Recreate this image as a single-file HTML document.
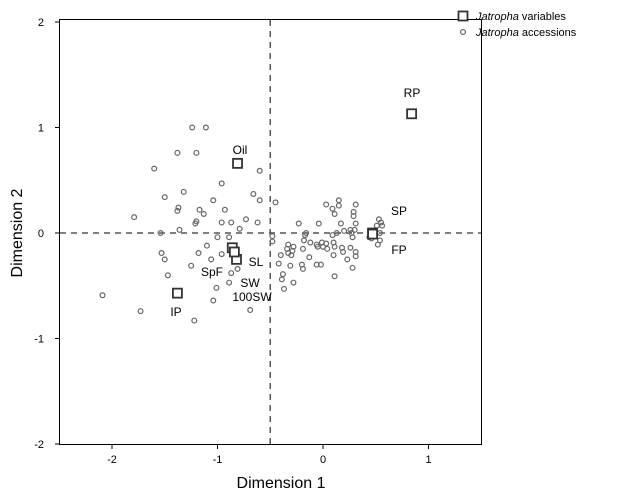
<!DOCTYPE html>
<html><head><meta charset="utf-8"><style>
body{margin:0;background:#fff;}
svg{display:block;font-family:"Liberation Sans",Arial,sans-serif;}
</style></head><body>
<svg id="chart" width="619" height="497">
<g id="marks"></g>
</svg>
<script>
const xTicks=[-2,-1,0,1];
const yTicks=[-2,-1,0,1,2];
const accX=[-1.24,-1.11,-1.38,-1.20,-1.60,-0.60,-0.96,-1.32,-1.50,-0.66,-0.60,-0.45,-1.04,-1.37,-1.38,-1.17,-1.13,-0.93,-1.79,-0.73,-0.62,-0.96,-0.87,-1.20,-1.21,-0.79,-1.54,-1.36,-1.00,-0.89,-0.48,-0.48,-1.10,-1.53,-1.50,-1.18,-0.96,-1.06,-1.25,-0.81,-1.47,-0.87,-0.89,-1.01,-2.09,-1.04,-1.73,-0.69,-1.22,
0.03,0.15,0.15,0.09,0.11,0.31,0.29,0.29,-0.23,-0.04,0.17,0.31,0.53,0.55,0.56,0.51,0.26,0.20,0.30,-0.16,0.13,-0.17,0.09,0.27,0.28,0.45,0.44,0.46,0.54,0.54,0.52,-0.18,-0.12,-0.33,-0.28,-0.34,-0.29,-0.33,-0.30,-0.40,-0.19,-0.06,-0.01,0.03,-0.05,0.00,0.04,0.10,0.11,0.18,0.19,0.26,0.31,0.31,0.10,-0.13,0.23,-0.42,-0.31,-0.20,-0.19,-0.06,-0.02,0.28,-0.38,-0.39,0.11,-0.28,-0.37];
const accY=[1.00,1.00,0.76,0.76,0.61,0.59,0.47,0.39,0.34,0.37,0.31,0.29,0.31,0.24,0.21,0.22,0.18,0.22,0.15,0.13,0.10,0.10,0.10,0.11,0.09,0.04,0.00,0.03,-0.04,-0.04,-0.03,-0.08,-0.12,-0.19,-0.25,-0.19,-0.20,-0.25,-0.31,-0.34,-0.40,-0.38,-0.47,-0.52,-0.59,-0.64,-0.74,-0.73,-0.83,
0.27,0.31,0.26,0.23,0.18,0.27,0.20,0.16,0.09,0.09,0.09,0.09,0.13,0.10,0.07,0.07,0.03,0.02,0.03,0.00,0.00,-0.02,-0.02,0.00,-0.04,0.01,-0.04,-0.05,0.00,-0.07,-0.11,-0.07,-0.09,-0.11,-0.13,-0.15,-0.17,-0.19,-0.21,-0.21,-0.15,-0.11,-0.09,-0.10,-0.13,-0.13,-0.15,-0.09,-0.13,-0.14,-0.18,-0.14,-0.18,-0.22,-0.21,-0.23,-0.25,-0.29,-0.31,-0.30,-0.34,-0.30,-0.30,-0.33,-0.39,-0.44,-0.41,-0.47,-0.53];
const varNames=["Oil","RP","SP","FP","IP","SpF","SL","SW"];
const varX=[-0.81,0.84,0.47,0.47,-1.38,-0.86,-0.82,-0.84];
const varY=[0.66,1.13,0.00,-0.01,-0.57,-0.14,-0.25,-0.18];
const labels=[["Oil",240,154,"middle"],["RP",412,97,"middle"],["SP",399,215,"middle"],["FP",399,254,"middle"],["IP",176,316,"middle"],["SpF",212,276,"middle"],["SL",256,266,"middle"],["SW",250,287,"middle"],["100SW",252,301,"middle"]];
const X0=59.25,X1=481.25,Y0=22,Y1=444;
const sx=v=>X0+(v-(-2.5))/4*(X1-X0);
const sy=v=>Y1-(v-(-2))/4*(Y1-Y0);
const NS="http://www.w3.org/2000/svg";
const svg=document.getElementById('chart');
function mk(t,a,txt){const e=document.createElementNS(NS,t);for(const k in a)e.setAttribute(k,a[k]);if(txt!==undefined)e.textContent=txt;svg.appendChild(e);return e;}
let e;
e=mk('rect',{x:59.5,y:19.5,width:422,height:425,fill:'none',stroke:'#000','stroke-width':1});


e=mk('line',{x1:sx(-0.5),x2:sx(-0.5),y1:20,y2:445,stroke:'#555','stroke-width':1.5,'stroke-dasharray':'6,5'});


e=mk('line',{x1:60,x2:481,y1:sy(0),y2:sy(0),stroke:'#555','stroke-width':1.5,'stroke-dasharray':'6,5'});


xTicks.forEach(t=>{
 e=mk('line',{x1:sx(t),x2:sx(t),y1:445,y2:449,stroke:'#000'});
 
 
 e=mk('text',{x:sx(t),y:463,'font-size':11,'text-anchor':'middle'},String(t));
 
 
});
yTicks.forEach(t=>{
 e=mk('line',{x1:55,x2:59.5,y1:sy(t),y2:sy(t),stroke:'#000'});
 
 
 e=mk('text',{x:44,y:sy(t)+4,'font-size':11,'text-anchor':'end'},String(t));
 
 
});
e=mk('text',{x:281,y:488,'font-size':16,'text-anchor':'middle'},'Dimension 1');


e=mk('text',{x:0,y:0,'font-size':16,'text-anchor':'middle',transform:'translate(22,233) rotate(-90)'},'Dimension 2');


accX.forEach((v,i)=>{
 e=mk('circle',{cx:sx(v),cy:sy(accY[i]),r:2.4,fill:'none',stroke:'#666','stroke-width':1.2});
 
 
});
varX.forEach((v,i)=>{
 e=mk('rect',{x:sx(v)-4.5,y:sy(varY[i])-4.5,width:9,height:9,fill:'#fff',stroke:'#333','stroke-width':1.8});
 
 
});
labels.forEach(l=>{
 e=mk('text',{x:l[1],y:l[2],'font-size':12,'text-anchor':l[3]},l[0]);
 
 
});
e=mk('rect',{x:458.5,y:11.5,width:9,height:9,fill:'#fff',stroke:'#333','stroke-width':1.8});


e=mk('text',{x:476,y:20,'font-size':11});
e.innerHTML='<tspan font-style="italic">Jatropha</tspan> variables';


e=mk('circle',{cx:463,cy:32,r:2.4,fill:'none',stroke:'#666','stroke-width':1.2});


e=mk('text',{x:476,y:36,'font-size':11});
e.innerHTML='<tspan font-style="italic">Jatropha</tspan> accessions';


</script>
</body></html>
